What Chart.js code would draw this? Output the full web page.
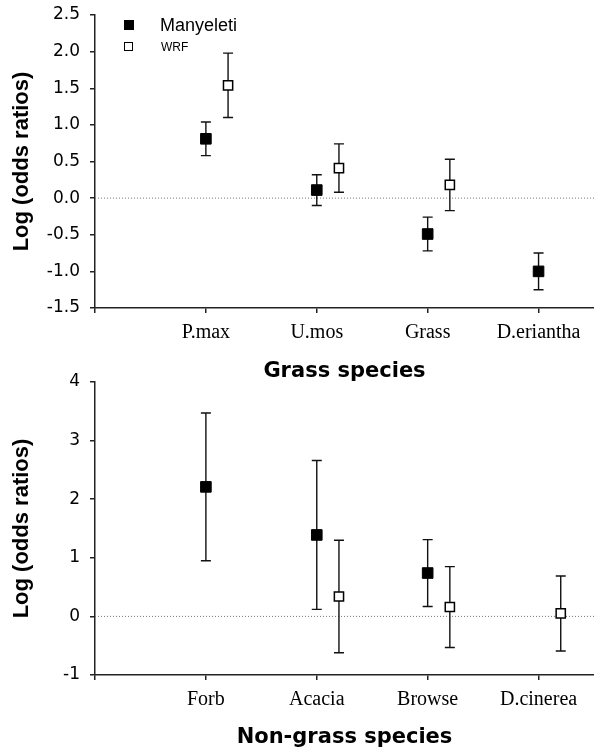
<!DOCTYPE html>
<html>
<head>
<meta charset="utf-8">
<script src="https://cdn.jsdelivr.net/npm/chart.js@4.4.1/dist/chart.umd.min.js"></script>
<style>
  body { margin: 0; background: #fff; width: 594px; height: 751px; position: relative; overflow: hidden; }
  .box { position: absolute; left: 0; width: 594px; }
  #topBox { top: 0; height: 385px; }
  #bottomBox { top: 360px; height: 391px; }
  .key { position: absolute; font-family: "Liberation Sans", Arial, sans-serif; color: #000; line-height: 1; }
  .sq { position: absolute; box-sizing: border-box; }
</style>
</head>
<body>
<div class="box" id="topBox"><canvas id="grassChart"></canvas></div>
<div class="box" id="bottomBox"><canvas id="nonGrassChart"></canvas></div>

<!-- legend -->
<div class="sq" style="left:124px; top:20px; width:10px; height:10px; background:#000;"></div>
<div class="key" style="left:160px; top:16px; font-size:18px;">Manyeleti</div>
<div class="sq" style="left:124px; top:42px; width:9px; height:9px; border:1.3px solid #000; background:#fff;"></div>
<div class="key" style="left:161px; top:41px; font-size:12px;">WRF</div>

<script>
// --- data ---
const grassCategories = ['P.max', 'U.mos', 'Grass', 'D.eriantha'];
const grassManyeleti = [0.81, 0.11, -0.49, -1.00];
const grassManyeletiErr = [0.23, 0.21, 0.23, 0.25];
const grassWRF = [1.54, 0.41, 0.18, null];
const grassWRFErr = [0.44, 0.33, 0.35, null];

const nonGrassCategories = ['Forb', 'Acacia', 'Browse', 'D.cinerea'];
const nonGrassManyeleti = [2.21, 1.39, 0.74, null];
const nonGrassManyeletiErr = [1.26, 1.27, 0.57, null];
const nonGrassWRF = [null, 0.34, 0.16, 0.05];
const nonGrassWRFErr = [null, 0.96, 0.69, 0.64];

const wrfShift = 0.2; // WRF marker sits a bit right of the category tick

// --- plugins ---
const zeroLine = {
    id: 'zeroLine',
    beforeDatasetsDraw(chart) {
        const { ctx, chartArea, scales } = chart;
        const y = scales.y.getPixelForValue(0);
        ctx.save();
        ctx.strokeStyle = '#777';
        ctx.lineWidth = 1;
        ctx.setLineDash([1, 2]);
        ctx.beginPath();
        ctx.moveTo(chartArea.left, y);
        ctx.lineTo(chartArea.right, y);
        ctx.stroke();
        ctx.restore();
    }
};

const errorBars = {
    id: 'errorBars',
    beforeDatasetsDraw(chart) {
        const { ctx, scales } = chart;
        ctx.save();
        ctx.strokeStyle = '#111';
        ctx.lineWidth = 1.4;
        chart.data.datasets.forEach(ds => {
            ds.data.forEach(p => {
                const x = scales.x.getPixelForValue(p.x);
                const yTop = scales.y.getPixelForValue(p.y + p.err);
                const yBot = scales.y.getPixelForValue(p.y - p.err);
                ctx.beginPath();
                ctx.moveTo(x, yTop); ctx.lineTo(x, yBot);
                ctx.moveTo(x - 5, yTop); ctx.lineTo(x + 5, yTop);
                ctx.moveTo(x - 5, yBot); ctx.lineTo(x + 5, yBot);
                ctx.stroke();
            });
        });
        ctx.restore();
    }
};

function toPoints(values, errs, shift) {
    const pts = [];
    values.forEach((v, i) => {
        if (v !== null) pts.push({ x: i + 1 + shift, y: v, err: errs[i] });
    });
    return pts;
}

function makeChart(id, cats, many, manyErr, wrf, wrfErr, yMin, yMax, yStep, decimals, xTitle, padTop, xHeight) {
    const ctx = document.getElementById(id).getContext('2d');
    return new Chart(ctx, {
        type: 'scatter',
        data: {
            datasets: [{
                label: 'Manyeleti',
                data: toPoints(many, manyErr, 0),
                pointStyle: 'rect',
                pointRadius: 7.5,
                backgroundColor: '#000',
                borderColor: '#000',
                borderWidth: 1
            }, {
                label: 'WRF',
                data: toPoints(wrf, wrfErr, wrfShift),
                pointStyle: 'rect',
                pointRadius: 6.5,
                backgroundColor: '#fff',
                borderColor: '#000',
                borderWidth: 1.5
            }]
        },
        options: {
            responsive: true,
            maintainAspectRatio: false,
            animation: false,
            layout: { autoPadding: false, padding: { top: padTop, left: 0, right: 0, bottom: 0 } },
            plugins: { legend: { display: false }, tooltip: { enabled: false } },
            scales: {
                x: {
                    type: 'linear',
                    min: 0,
                    max: 4.5,
                    afterBuildTicks: scale => { scale.ticks = [0, 1, 2, 3, 4].map(v => ({ value: v })); },
                    afterFit: scale => {
                        scale.height = xHeight;
                        scale.paddingLeft = 0;
                        scale.paddingRight = 0;
                    },
                    ticks: {
                        callback: v => (v >= 1 && v <= 4) ? cats[v - 1] : '',
                        autoSkip: false,
                        maxRotation: 0,
                        padding: 8,
                        color: '#000',
                        font: { family: '"Liberation Serif", "Times New Roman", serif', size: 20 }
                    },
                    grid: { drawOnChartArea: false, drawTicks: true, tickLength: 5, color: '#222', lineWidth: 1.5 },
                    border: { color: '#222', width: 1.5 },
                    title: {
                        display: true,
                        text: xTitle,
                        color: '#000',
                        padding: { top: 0, bottom: 1 },
                        font: { family: '"DejaVu Sans", sans-serif', size: 21, weight: 'bold' }
                    }
                },
                y: {
                    min: yMin,
                    max: yMax,
                    afterFit: scale => {
                        scale.width = 95;
                        scale.paddingTop = 0;
                        scale.paddingBottom = 0;
                    },
                    ticks: {
                        stepSize: yStep,
                        padding: 10,
                        color: '#000',
                        callback: v => v.toFixed(decimals),
                        font: { family: '"DejaVu Sans", sans-serif', size: 17 }
                    },
                    grid: { drawOnChartArea: false, drawTicks: true, tickLength: 5, color: '#222', lineWidth: 1.5 },
                    border: { color: '#222', width: 1.5 },
                    title: {
                        display: true,
                        text: 'Log (odds ratios)',
                        color: '#000',
                        padding: { top: 9, bottom: 0 },
                        font: { family: '"Liberation Sans", Arial, sans-serif', size: 22, weight: 'bold' }
                    }
                }
            }
        },
        plugins: [zeroLine, errorBars]
    });
}

makeChart('grassChart', grassCategories, grassManyeleti, grassManyeletiErr, grassWRF, grassWRFErr,
    -1.5, 2.5, 0.5, 1, 'Grass species', 15, 77);
makeChart('nonGrassChart', nonGrassCategories, nonGrassManyeleti, nonGrassManyeletiErr, nonGrassWRF, nonGrassWRFErr,
    -1, 4, 1, 0, 'Non-grass species', 22, 76);
</script>
</body>
</html>
